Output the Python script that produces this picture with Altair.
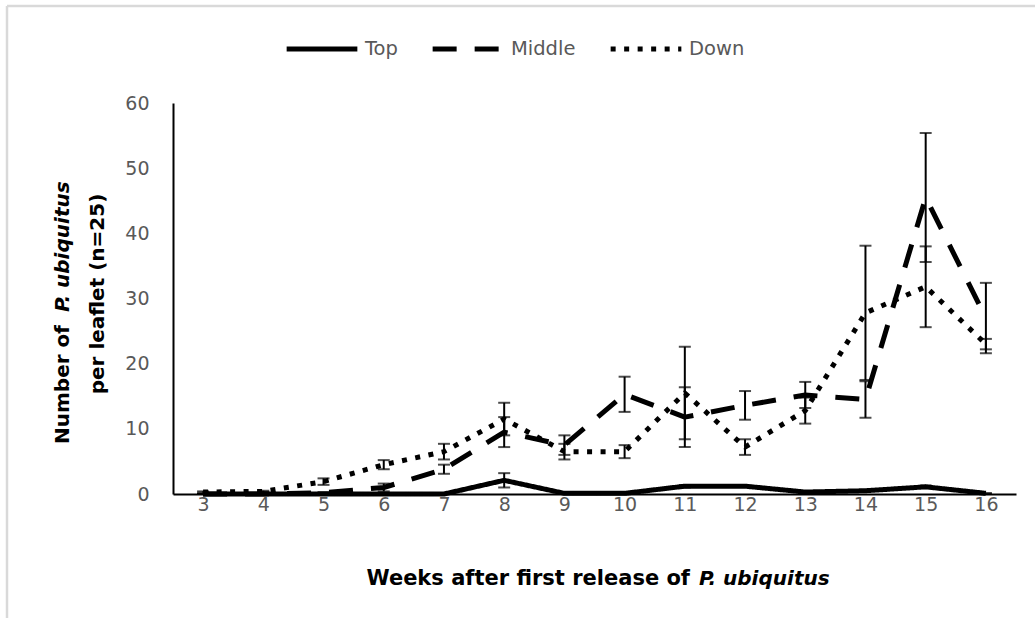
import altair as alt
import pandas as pd

weeks = list(range(3, 17))
series_names = ["Top", "Middle", "Down"]

top_mean = [0.0, 0.0, 0.0, 0.0, 0.0, 2.1, 0.1, 0.1, 1.2, 1.2, 0.3, 0.5, 1.1, 0.1]
top_err = [0.0, 0.0, 0.0, 0.0, 0.0, 1.1, 0.0, 0.0, 0.2, 0.1, 0.0, 0.0, 0.2, 0.0]
middle_mean = [0.0, 0.0, 0.2, 1.0, 3.8, 9.5, 7.5, 15.3, 11.8, 13.6, 15.2, 14.5, 45.5, 27.0]
middle_err = [0.0, 0.0, 0.1, 0.6, 0.7, 2.3, 1.5, 2.7, 4.6, 2.2, 2.0, 2.8, 9.9, 5.4]
down_mean = [0.3, 0.4, 1.9, 4.5, 6.5, 11.5, 6.5, 6.5, 15.5, 7.2, 12.8, 27.8, 31.8, 23.0]
down_err = [0.1, 0.1, 0.5, 0.7, 1.2, 2.5, 1.2, 1.0, 7.1, 1.2, 2.0, 10.3, 6.2, 0.8]

rows = []
for name, means, errs in [("Top", top_mean, top_err),
                          ("Middle", middle_mean, middle_err),
                          ("Down", down_mean, down_err)]:
    for w, m, e in zip(weeks, means, errs):
        rows.append({"series": name, "week": w, "mean": m,
                     "lo": max(m - e, 0), "hi": m + e})
df = pd.DataFrame(rows)

FONT = "DejaVu Sans"
GRAY = "#595959"

x_enc = alt.X("week:O", scale=alt.Scale(type="point", padding=0.5),
              axis=alt.Axis(title=None, labelAngle=0, labelPadding=1))
y_scale = alt.Scale(domain=[0, 60])

base = alt.Chart(df)

lines = base.mark_line(strokeWidth=5, color="black", strokeJoin="round").encode(
    x=x_enc,
    y=alt.Y("mean:Q", scale=y_scale,
            axis=alt.Axis(title=None, values=[0, 10, 20, 30, 40, 50, 60], labelPadding=24)),
    strokeDash=alt.StrokeDash(
        "series:N",
        scale=alt.Scale(domain=series_names, range=[[1, 0], [24, 18], [5, 8.5]]),
        legend=alt.Legend(
            title=None, orient="none", legendX=111, legendY=-92,
            direction="horizontal", symbolType="stroke", symbolSize=5000,
            symbolStrokeWidth=5, symbolStrokeColor="black",
            labelFontSize=19.5, labelColor=GRAY, labelFont=FONT,
            labelOffset=5, columnPadding=24,
        ),
    ),
)

bars = base.mark_rule(color="black", strokeWidth=2).encode(
    x=x_enc, y=alt.Y("lo:Q", scale=y_scale), y2="hi:Q"
)
cap_lo = base.mark_tick(color="black", thickness=2, size=12).encode(
    x=x_enc, y=alt.Y("lo:Q", scale=y_scale)
)
cap_hi = base.mark_tick(color="black", thickness=2, size=12).encode(
    x=x_enc, y=alt.Y("hi:Q", scale=y_scale)
)

one = alt.Chart(pd.DataFrame({"k": [0]}))

border_top = one.mark_rule(color="#d9d9d9", strokeWidth=2.5).encode(
    x=alt.value(-166), x2=alt.value(870), y=alt.value(-97))
border_left = one.mark_rule(color="#d9d9d9", strokeWidth=2.5).encode(
    x=alt.value(-166), y=alt.value(-97), y2=alt.value(520))

xt1 = one.mark_text(font=FONT, fontSize=21, fontWeight="bold", align="right",
                    baseline="alphabetic", color="black").encode(
    x=alt.value(517), y=alt.value(482), text=alt.value("Weeks after first release of"))
xt2 = one.mark_text(font=FONT, fontSize=20, fontWeight="bold", fontStyle="italic",
                    align="left", baseline="alphabetic", color="black").encode(
    x=alt.value(526), y=alt.value(482), text=alt.value("P. ubiquitus"))

yt1 = one.mark_text(font=FONT, fontSize=20, fontWeight="bold", align="right",
                    baseline="middle", angle=270, color="black").encode(
    x=alt.value(-110), y=alt.value(222), text=alt.value("Number of"))
yt2 = one.mark_text(font=FONT, fontSize=20, fontWeight="bold", fontStyle="italic",
                    align="left", baseline="middle", angle=270, color="black").encode(
    x=alt.value(-110), y=alt.value(209), text=alt.value("P. ubiquitus"))
yt3 = one.mark_text(font=FONT, fontSize=20, fontWeight="bold", align="center",
                    baseline="middle", angle=270, color="black").encode(
    x=alt.value(-75), y=alt.value(191), text=alt.value("per leaflet (n=25)"))

chart = alt.layer(
    border_top, border_left, lines, bars, cap_lo, cap_hi, xt1, xt2, yt1, yt2, yt3
).properties(
    width=843, height=391,
    padding={"left": 173, "top": 103, "right": 19, "bottom": 124},
    autosize=alt.AutoSizeParams(type="none"),
    background="white",
).configure_view(stroke=None).configure_axis(
    domainColor="black", domainWidth=2, ticks=False, grid=False,
    labelColor=GRAY, labelFontSize=19, labelFont=FONT,
)

chart.save("out.html", embed_options={"renderer": "svg", "actions": False})
